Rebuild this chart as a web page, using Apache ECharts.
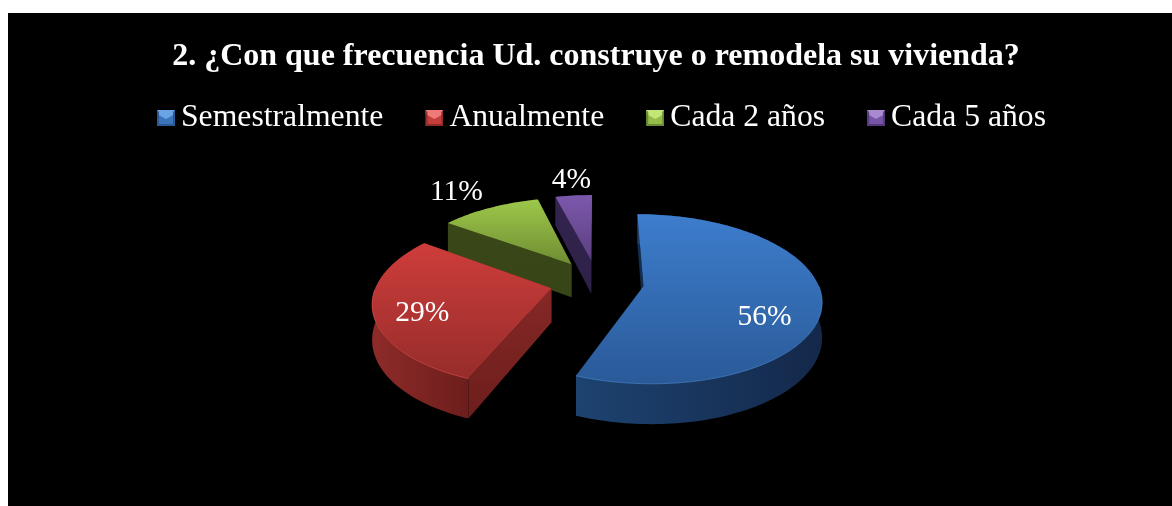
<!DOCTYPE html>
<html><head><meta charset="utf-8">
<style>html,body{margin:0;padding:0;background:#fff}#c{width:1172px;height:506px}</style>
<script src="https://cdn.jsdelivr.net/npm/echarts@6/dist/echarts.min.js"></script>
</head><body><div id="c"></div>
<script>
const chartTitle = '2. ¿Con que frecuencia Ud. construye o remodela su vivienda?';
const categories = ['Semestralmente', 'Anualmente', 'Cada 2 años', 'Cada 5 años'];
const shares = [56, 29, 11, 4];

const FONT = '"Liberation Serif", serif';
const total = shares.reduce((a, b) => a + b, 0);
const palette = [
  {top:['#3d7dcd','#2a5a98'], wallA:'#1d4370', wallB:'#14284a', face:'#143050', rim:'#4a86d0', icon:['#6ba4e4','#3a74ba','#2a5a96']},
  {top:['#ce3d3b','#962c2a'], wallA:'#8e2b29', wallB:'#6c1e1c', face:'#862826', rim:'#d8504c', icon:['#f07a78','#c43e3c','#8e2c2a']},
  {top:['#9dc84a','#6f8c33'], wallA:'#3f4f1c', wallB:'#374517', face:'#3a4818', rim:'#a8d050', icon:['#c4e678','#94bc48','#6c8a34']},
  {top:['#7c58ac','#5b3f80'], wallA:'#2e2148', wallB:'#2e2148', face:'#33244f', rim:'#8460b4', icon:['#a88ad0','#7654a6','#56397a']}
];
const labelOffset = [[121,31],[-129,25],[-115,-72],[-20,-81]];

// Exploded disc seen in perspective
const CX = 597, CY = 282, R = 174, A = 81.6, K = 0.15, EXPLODE = 0.27, DEPTH = 34;
function project(X, Y) {
  const s = 1 / (1 + K * Y);
  return [CX + R * X * s, CY - A * Y * s, DEPTH * s];
}
function poly(points, fill, z2) {
  return {type:'polygon', z2, silent:true, shape:{points}, style:{fill}};
}
function grad(a, b, horizontal) {
  return new echarts.graphic.LinearGradient(0, 0, horizontal ? 1 : 0, horizontal ? 0 : 1,
    [{offset:0,color:a},{offset:1,color:b}]);
}
function sliceRender(seriesIndex) {
  return function (params, api) {
    const value = api.value(0);
    const before = shares.slice(0, seriesIndex).reduce((a, b) => a + b, 0);
    const a0 = before / total * 2 * Math.PI, a1 = (before + value) / total * 2 * Math.PI;
    const mid = (a0 + a1) / 2;
    const ox = EXPLODE * Math.sin(mid), oy = EXPLODE * Math.cos(mid);
    const steps = Math.max(4, Math.round((a1 - a0) * 40));
    const rim = [];
    for (let i = 0; i <= steps; i++) {
      const t = a0 + (a1 - a0) * i / steps;
      rim.push(project(ox + Math.sin(t), oy + Math.cos(t)));
    }
    const apex = project(ox, oy);
    const up = p => [p[0], p[1]];
    const dn = p => [p[0], p[1] + p[2]];
    const c = palette[seriesIndex];
    const first = rim[0], last = rim[rim.length - 1];
    const startFront = Math.sin(a0) < 0;      // start wall faces the viewer
    const startWall = poly([up(first), up(apex), dn(apex), dn(first)], grad(c.face, c.wallB), startFront ? 3 : 1);
    const endWall = poly([up(last), up(apex), dn(apex), dn(last)], grad(c.face, c.wallB), 1);
    const outer = poly(rim.map(up).concat(rim.slice().reverse().map(dn)), grad(c.wallA, c.wallB, true), 2);
    const top = poly([up(apex)].concat(rim.map(up)), grad(c.top[0], c.top[1]), 5);
    const front = rim.filter(p => p[1] > apex[1]).map(up);
    const children = [endWall, startWall, outer, top];
    if (front.length > 1) {
      children.push({type:'polyline', z2:6, silent:true, shape:{points:front},
        style:{fill:null, stroke:c.rim, lineWidth:1, opacity:0.7}});
    }
    children.push({type:'text', z2:8, silent:true, style:{
      x: apex[0] + labelOffset[seriesIndex][0], y: apex[1] + labelOffset[seriesIndex][1],
      text: value + '%', fill:'#fff', font:'29.5px ' + FONT, align:'center', verticalAlign:'middle'}});
    return {type:'group', children};
  };
}
function iconUrl(c) {
  const svg = '<svg xmlns="http://www.w3.org/2000/svg" width="18" height="16">' +
    '<rect width="18" height="16" fill="'+c[1]+'"/>' +
    '<polygon points="0,0 18,0 18,4 9,9 0,4" fill="'+c[0]+'"/>' +
    '<polygon points="0,0 2,2 2,14 0,16" fill="'+c[2]+'"/>' +
    '<polygon points="18,0 16,2 16,14 18,16" fill="'+c[2]+'"/>' +
    '<polygon points="0,16 2,14 16,14 18,16" fill="'+c[2]+'"/></svg>';
  return 'image://data:image/svg+xml;charset=utf-8,' + encodeURIComponent(svg);
}
const chart = echarts.init(document.getElementById('c'), null, {renderer:'canvas'});
chart.setOption({
  animation:false,
  backgroundColor:'#ffffff',
  graphic:{elements:[{type:'rect', silent:true, z:-10, shape:{x:8,y:13,width:1164,height:493}, style:{fill:'#000'}}]},
  title:{text:chartTitle, left:591, top:36, textAlign:'center',
    textStyle:{color:'#fff', fontFamily:FONT, fontWeight:'bold', fontSize:32}},
  legend:{left:152, top:97, itemWidth:18, itemHeight:16, itemGap:42, orient:'horizontal',
    data:categories.map((name,i)=>({name, icon:iconUrl(palette[i].icon)})),
    textStyle:{color:'#fff', fontFamily:FONT, fontSize:31.7, padding:[0,0,0,1]}},
  series:categories.map((name,i)=>({
    type:'custom', name, coordinateSystem:'none',
    z: 2 + Math.round((1 - Math.cos(((shares.slice(0,i).reduce((a,b)=>a+b,0)+shares[i]/2)/total)*2*Math.PI))*10),
    itemStyle:{color:palette[i].top[0]},
    renderItem:sliceRender(i),
    data:[[shares[i]]]
  }))
});
</script></body></html>
